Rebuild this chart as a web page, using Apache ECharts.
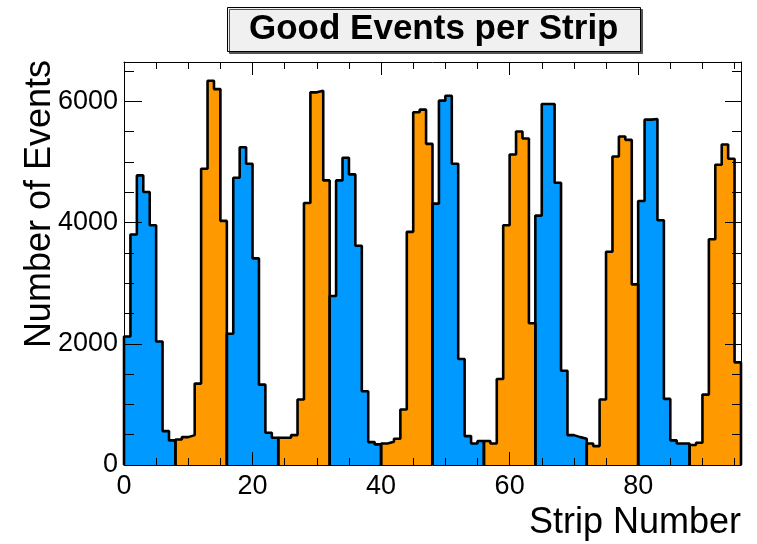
<!DOCTYPE html>
<html>
<head>
<meta charset="utf-8">
<script src="https://cdn.jsdelivr.net/npm/echarts@6/dist/echarts.min.js"></script>
<style>
  html, body { margin: 0; padding: 0; background: #fff; }
  #chart { width: 757px; height: 544px; }
</style>
</head>
<body>
<div id="chart"></div>
<script>
// --- data ---
const stripCounts = [
    2121, 3803, 4779, 4505, 3957, 2039, 559, 406,
    422, 460, 493, 1343, 4888, 6340, 6203, 4028,
    2165, 4740, 5244, 4970, 3409, 1326, 532, 449,
    449, 449, 493, 1080, 4324, 6149, 6176, 4696,
    2789, 4696, 5069, 4795, 3617, 1217, 378, 340,
    356, 384, 433, 915, 3847, 5820, 5864, 5299,
    4313, 6012, 6094, 4970, 1748, 477, 356, 395,
    395, 356, 1419, 3957, 5124, 5502, 5387, 2340,
    4115, 5957, 5957, 4658, 1556, 493, 460, 433,
    356, 312, 1080, 3518, 5091, 5420, 5365, 2981,
    4357, 5699, 5710, 4039, 1091, 406, 356, 356,
    329, 367, 1162, 3726, 4954, 5288, 5053, 1693
];
const stripsPerGroup = 8;
const groupColors = ['#0099ff', '#ff9900'];   // alternates blue / orange
const xTicks = { major: 20, minor: 5, max: 96 };
const yTicks = { major: 2000, minor: 500, max: 6650 };

const FONT = '"Liberation Sans", Arial, Helvetica, sans-serif';

// one filled step outline per group of strips
function buildSeries() {
    const series = [];
    const nGroups = stripCounts.length / stripsPerGroup;
    for (let g = 0; g < nGroups; g++) {
        const start = g * stripsPerGroup;
        const pts = [[start, 0]];
        for (let i = 0; i < stripsPerGroup; i++) {
            pts.push([start + i, stripCounts[start + i]]);
        }
        pts.push([start + stripsPerGroup, 0]);
        series.push({
            type: 'line',
            step: 'end',
            data: pts,
            symbol: 'none',
            z: 2,
            lineStyle: { color: '#000', width: 2.6 },
            areaStyle: { color: groupColors[g % 2], opacity: 1 },
            silent: true
        });
    }
    return series;
}

function xAxisDef(position, interval, tickLen, withLabels, withLine) {
    return {
        type: 'value', position: position, min: 0, max: xTicks.max, interval: interval,
        z: 5,
        axisLine: { show: withLine, onZero: false, lineStyle: { color: '#000', width: 1 } },
        axisTick: { show: true, inside: true, length: tickLen, lineStyle: { color: '#000', width: 1 } },
        axisLabel: {
            show: withLabels, showMaxLabel: false, margin: 8,
            color: '#000', fontSize: 27, fontFamily: FONT,
            formatter: v => String(v)
        },
        splitLine: { show: false }
    };
}

function yAxisDef(position, interval, tickLen, withLabels, withLine) {
    return {
        type: 'value', position: position, min: 0, max: yTicks.max, interval: interval,
        z: 5,
        axisLine: { show: withLine, onZero: false, lineStyle: { color: '#000', width: 1 } },
        axisTick: { show: true, inside: true, length: tickLen, lineStyle: { color: '#000', width: 1 } },
        axisLabel: {
            show: withLabels, showMaxLabel: false, margin: 6,
            color: '#000', fontSize: 27, fontFamily: FONT,
            formatter: v => String(v)
        },
        splitLine: { show: false }
    };
}

const chart = echarts.init(document.getElementById('chart'), null, { renderer: 'canvas' });

const option = {
    animation: false,
    backgroundColor: '#fff',
    title: {
        text: 'Good Events per Strip',
        left: 227, top: 7,
        padding: [5, 22],
        backgroundColor: '#f0f0f0',
        borderColor: '#000',
        borderWidth: 1,
        shadowColor: '#555',
        shadowOffsetX: 2,
        shadowOffsetY: 2,
        shadowBlur: 0,
        textStyle: { color: '#000', fontSize: 35, fontWeight: 'bold', fontFamily: FONT }
    },
    grid: { left: 124, right: 16, top: 62, bottom: 79, containLabel: false },
    xAxis: [
        xAxisDef('bottom', xTicks.major, 13, true, true),
        xAxisDef('bottom', xTicks.minor, 7, false, false),
        xAxisDef('top', xTicks.major, 13, false, true),
        xAxisDef('top', xTicks.minor, 7, false, false)
    ],
    yAxis: [
        yAxisDef('left', yTicks.major, 18, true, true),
        yAxisDef('left', yTicks.minor, 10, false, false),
        yAxisDef('right', yTicks.major, 16, false, true),
        yAxisDef('right', yTicks.minor, 9, false, false)
    ],
    graphic: [
        {
            type: 'text', x: 40, y: 60, rotation: Math.PI / 2,
            style: {
                text: 'Number of Events', fill: '#000',
                font: '36px ' + FONT, textAlign: 'right', textVerticalAlign: 'middle'
            }
        },
        {
            type: 'text', x: 741, y: 523,
            style: {
                text: 'Strip Number', fill: '#000',
                font: '36px ' + FONT, textAlign: 'right', textVerticalAlign: 'middle'
            }
        }
    ],
    series: buildSeries()
};

chart.setOption(option);
</script>
</body>
</html>
